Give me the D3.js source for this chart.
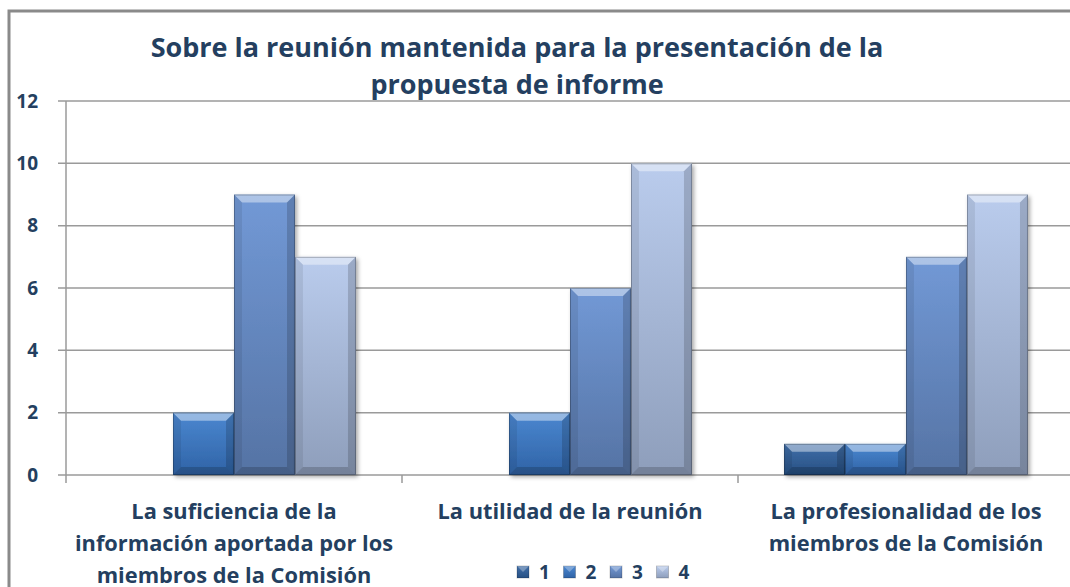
<!DOCTYPE html>
<html lang="es">
<head>
<meta charset="utf-8">
<title>Sobre la reunión</title>
<script src="https://cdn.jsdelivr.net/npm/d3@7"></script>
<style>
  body { margin: 0; background: #fff; }
  svg text { font-family: "Open Sans", Lato, sans-serif; font-weight: bold; fill: #243f60; }
</style>
</head>
<body>
<script>
// data
var categories = [
  ["La suficiencia de la", "información aportada por los", "miembros de la Comisión"],
  ["La utilidad de la reunión"],
  ["La profesionalidad de los", "miembros de la Comisión"]
];
var seriesNames = ["1", "2", "3", "4"];
var s1 = [0, 0, 1];
var s2 = [2, 2, 1];
var s3 = [9, 6, 7];
var s4 = [7, 10, 9];
var yTicks = [0, 2, 4, 6, 8, 10, 12];
var titleLines = ["Sobre la reunión mantenida para la presentación de la", "propuesta de informe"];

var seriesVals = [s1, s2, s3, s4];
var colors = [
  ["#416fa9", "#264f82"],
  ["#4b87d0", "#2f63a6"],
  ["#7299d6", "#5573a4"],
  ["#bacced", "#8e9ebb"]
];

var w = 1070, h = 587;
var padL = 66, padT = 101, baseY = 475, groupW = 336;

var svg = d3.select("body").append("svg").attr("width", w).attr("height", h);

var defs = svg.append("defs");
colors.forEach(function(c, i) {
  var g = defs.append("linearGradient").attr("id", "g" + i)
    .attr("x1", 0).attr("y1", 0).attr("x2", 0).attr("y2", 1);
  g.append("stop").attr("offset", "0%").attr("stop-color", c[0]);
  g.append("stop").attr("offset", "100%").attr("stop-color", c[1]);
});
var f = defs.append("filter").attr("id", "shadow").attr("x", "-10%").attr("y", "-10%").attr("width", "130%").attr("height", "130%");
f.append("feDropShadow").attr("dx", 2).attr("dy", 2).attr("stdDeviation", 2).attr("flood-color", "#000").attr("flood-opacity", 0.35);

// outer frame
svg.append("rect").attr("x", 9).attr("y", 11).attr("width", w + 10).attr("height", h + 10)
  .attr("fill", "none").attr("stroke", "#8a8a8a").attr("stroke-width", 3);

var x0 = d3.scaleBand().domain(d3.range(categories.length)).range([padL, padL + 3 * groupW]).paddingInner(0.274).paddingOuter(0.137);
var x1 = d3.scaleBand().domain(d3.range(seriesNames.length)).range([0, x0.bandwidth()]);
var y = d3.scaleLinear().domain([0, 12]).range([baseY, padT]);

// gridlines
svg.append("g").selectAll("line").data(yTicks).enter().append("line")
  .attr("x1", padL - 8).attr("x2", w)
  .attr("y1", function(d) { return y(d); }).attr("y2", function(d) { return y(d); })
  .attr("stroke", "#9a9a9a").attr("stroke-width", 1.5);

// y axis
var yAxis = d3.axisLeft(y).tickValues(yTicks).tickSize(0).tickPadding(28);
var ya = svg.append("g").attr("transform", "translate(" + padL + ",0)").call(yAxis);
ya.select(".domain").remove();
ya.selectAll("text").style("font-size", "19px");
svg.append("line").attr("x1", padL).attr("x2", padL).attr("y1", padT).attr("y2", baseY + 8)
  .attr("stroke", "#9a9a9a").attr("stroke-width", 1.5);

// category boundary ticks
svg.append("g").selectAll("line").data([1, 2]).enter().append("line")
  .attr("x1", function(d) { return padL + d * groupW; }).attr("x2", function(d) { return padL + d * groupW; })
  .attr("y1", baseY).attr("y2", baseY + 8).attr("stroke", "#9a9a9a").attr("stroke-width", 1.5);

// bars
var bev = 8;
var groups = svg.append("g").selectAll("g").data(categories).enter().append("g")
  .attr("transform", function(d, i) { return "translate(" + x0(i) + ",0)"; });

groups.each(function(cat, ci) {
  var g = d3.select(this);
  seriesVals.forEach(function(vals, si) {
    var v = vals[ci];
    if (!v) return;
    var bx = x1(si), bw = x1.bandwidth(), by = y(v), bh = baseY - by;
    var b = Math.min(bev, bh / 2);
    var bar = g.append("g");
    bar.append("rect").attr("x", bx).attr("y", by).attr("width", bw).attr("height", bh)
      .attr("fill", "url(#g" + si + ")").attr("filter", "url(#shadow)");
    bar.append("polygon").attr("points", [[bx, by], [bx + bw, by], [bx + bw - b, by + b], [bx + b, by + b]].join(" "))
      .attr("fill", "#fff").attr("opacity", 0.42);
    bar.append("polygon").attr("points", [[bx, by], [bx + b, by + b], [bx + b, by + bh - b], [bx, by + bh]].join(" "))
      .attr("fill", "#000").attr("opacity", 0.08);
    bar.append("polygon").attr("points", [[bx + bw, by], [bx + bw - b, by + b], [bx + bw - b, by + bh - b], [bx + bw, by + bh]].join(" "))
      .attr("fill", "#000").attr("opacity", 0.16);
    bar.append("polygon").attr("points", [[bx, by + bh], [bx + b, by + bh - b], [bx + bw - b, by + bh - b], [bx + bw, by + bh]].join(" "))
      .attr("fill", "#000").attr("opacity", 0.18);
    bar.append("rect").attr("x", bx + 0.5).attr("y", by + 0.5).attr("width", bw - 1).attr("height", bh - 1)
      .attr("fill", "none").attr("stroke", "#000").attr("stroke-opacity", 0.25);
  });
});

// category labels
groups.each(function(cat, ci) {
  var t = d3.select(this).append("text").attr("text-anchor", "middle").style("font-size", "21.8px");
  cat.forEach(function(line, li) {
    t.append("tspan").attr("x", x0.bandwidth() / 2).attr("y", 519 + li * 32).text(line);
  });
});

// title
var tt = svg.append("text").attr("text-anchor", "middle").style("font-size", "27px");
titleLines.forEach(function(line, i) {
  tt.append("tspan").attr("x", 517).attr("y", 57 + i * 37).text(line);
});

// legend
var leg = svg.append("g").attr("transform", "translate(517,566)");
var li = leg.selectAll("g").data(seriesNames).enter().append("g")
  .attr("transform", function(d, i) { return "translate(" + (i * 46.5) + ",0)"; });
li.append("rect").attr("width", 12).attr("height", 12).attr("fill", function(d, i) { return "url(#g" + i + ")"; })
  .attr("stroke", "#000").attr("stroke-opacity", 0.2);
li.append("polygon").attr("points", "0,0 12,0 6,6").attr("fill", "#fff").attr("opacity", 0.3);
li.append("text").attr("x", 22).attr("y", 13).style("font-size", "19px").text(function(d) { return d; });
</script>
</body>
</html>
